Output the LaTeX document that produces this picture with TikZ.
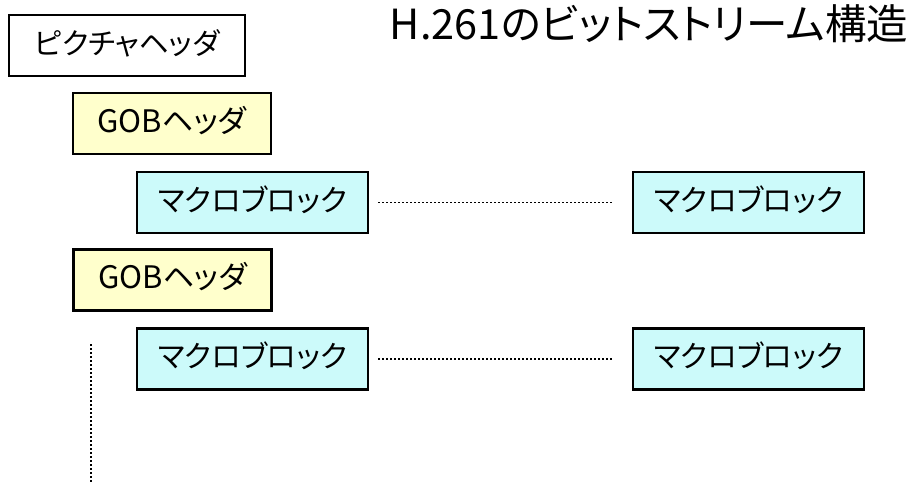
\documentclass[tikz,border=0pt]{standalone}
\usepackage{fontspec}
\setmainfont{Noto Sans CJK JP}[RawFeature={+palt}]
\definecolor{gobfill}{HTML}{FFFFCC}
\definecolor{mbfill}{HTML}{CCFAFA}
\begin{document}
\begin{tikzpicture}[x=1pt,y=-1pt,
  box/.style={draw=black,line width=2.2pt,minimum height=61pt,inner sep=0pt,
    font=\fontsize{29}{32}\selectfont,text height=22pt,text depth=5pt},
  pichdr/.style={box,fill=white,minimum width=236pt,font=\fontsize{29.5}{32}\selectfont},
  gobhdr/.style={box,fill=gobfill,minimum width=198pt,font=\fontsize{31}{34}\selectfont},
  mblock/.style={box,fill=mbfill,minimum width=231pt,font=\fontsize{30}{33}\selectfont},
  dots/.style={line width=1.8pt,dash pattern=on 1.8pt off 2.2pt}]
\useasboundingbox (0,0) rectangle (914,483);
\node[pichdr] (pic) at (127,45.5) {ピクチャヘッダ};
\node[anchor=base,font=\fontsize{41.5}{44}\selectfont] (title) at (649,39) {H.261のビットストリーム構造};
\node[gobhdr] (gob1) at (172,123.5) {GOBヘッダ};
\node[mblock] (mb11) at (252.5,202.5) {マクロブロック};
\node[mblock] (mb12) at (748.5,202.5) {マクロブロック};
\node[gobhdr] (gob2) at (172.5,280) {GOBヘッダ};
\node[mblock] (mb21) at (252.5,359) {マクロブロック};
\node[mblock] (mb22) at (748.5,359) {マクロブロック};
\draw[dots] ([xshift=9pt]mb11.east) -- ([xshift=-18pt]mb12.west);
\draw[dots] ([xshift=9pt]mb21.east) -- ([xshift=-18pt]mb22.west);
\coordinate (vtop) at (91,344);
\coordinate (vbot) at (91,483);
\draw[dots] (vtop) -- (vbot);
\end{tikzpicture}
\end{document}
